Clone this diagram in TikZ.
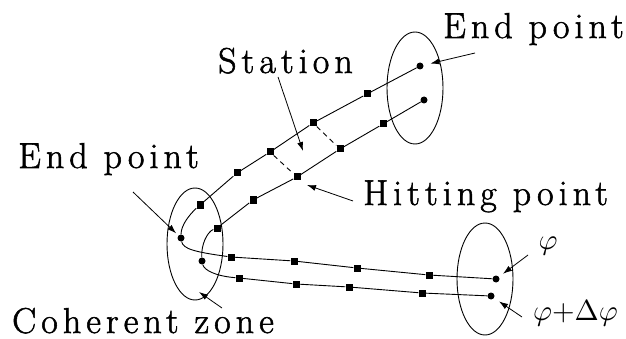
\documentclass[tikz,border=0pt]{standalone}
\usepackage{fontspec}
\usepackage{tikz}
\usetikzlibrary{arrows.meta,shapes.geometric}
\newfontfamily\lblfont{Latin Modern Roman}[LetterSpace=14,FakeBold=1.5]
\newcommand\phisym[1]{\scalebox{2.9}{$#1$}}

\tikzset{
  dot/.style={circle,fill,inner sep=0pt,minimum size=7pt},
  sq/.style={rectangle,fill,inner sep=0pt,minimum size=7pt},
  zone/.style={ellipse,draw,line width=0.9pt,inner sep=0pt,minimum width=56pt,minimum height=112pt},
  lbl/.style={inner sep=0pt,font=\fontsize{36}{40}\lblfont},
  sym/.style={inner sep=0pt},
  trk/.style={line width=0.9pt},
  arw/.style={line width=0.8pt,-{Latex[length=9pt,width=6pt]}},
}

\begin{document}
\begin{tikzpicture}[x=1pt,y=-1pt]
  \useasboundingbox (0,0) rectangle (626,339);
  % zones round the ends
  \node[zone] (ztop) at (415,88) {};
  \node[zone] (zmid) at (195,244) {};
  \node[zone] (zend) at (485,279) {};
  % end points
  \node[dot] (e1) at (420,66) {};
  \node[dot] (e2) at (424,100) {};
  \node[dot] (d1) at (181,238) {};
  \node[dot] (d2) at (202,261) {};
  \node[dot] (f1) at (496,279) {};
  \node[dot] (f2) at (491,296) {};
  % stations
  \foreach \n/\x/\y in {a1/367/94,a2/313/123,a3/270/152,a4/237/173,a5/200/205,
                        a6/231/257,a7/294/261,a8/357/268,a9/429/275,
                        b1/383/124,b2/340/149,b3/297/177,b4/253/200,b5/217/228,
                        b6/239/278,b7/296/284,b8/349/287,b9/422/293}
    \node[sq] (\n) at (\x,\y) {};
  % the two rays
  \draw[trk] (e1) -- (a1) -- (a2) -- (a3) -- (a4) -- (a5)
    .. controls (190,214) and (181,225) .. (d1)
    .. controls (183,249) and (195,252) .. (a6) -- (a7) -- (a8) -- (a9) -- (f1);
  \draw[trk] (e2) -- (b1) -- (b2) -- (b3) -- (b4) -- (b5)
    .. controls (207,232) and (201,245) .. (d2)
    .. controls (204,270) and (215,276) .. (b6) -- (b7) -- (b8) -- (b9) -- (f2);
  \draw[trk,dash pattern=on 5pt off 4pt] (a2) -- (b2);
  \draw[trk,dash pattern=on 5pt off 4pt] (a3) -- (b3);
  % labels
  \node[lbl,anchor=base west] (eptop) at (443,38) {End point};
  \node[lbl,anchor=base west] (stat) at (218,73) {Station};
  \node[lbl,anchor=base west] (epleft) at (18,168) {End point};
  \node[lbl,anchor=base west] (hit) at (363,205) {Hitting point};
  \node[lbl,anchor=base west] (coh) at (12,333) {Coherent zone};
  \node[sym] (phi) at (548,246) {\phisym{\varphi}};
  \node[sym,anchor=west] (dphi) at (533,313) {\phisym{\varphi{+}\Delta\varphi}};
  % pointers
  \coordinate (p1) at (475,53);
  \coordinate (p2) at (278,77);
  \coordinate (t2) at (303,151);
  \coordinate (p3) at (133,192);
  \coordinate (p4) at (353,201);
  \coordinate (t4) at (307,185);
  \coordinate (p5) at (222,308);
  \coordinate (t5) at (199,292);
  \coordinate (p6) at (528,255);
  \coordinate (p7) at (522,317);
  \draw[arw,shorten >=7pt] (p1) -- (e1);
  \draw[arw] (p2) -- (t2);
  \draw[arw,shorten >=3pt] (p3) -- (d1);
  \draw[arw] (p4) -- (t4);
  \draw[arw] (p5) -- (t5);
  \draw[arw,shorten >=5pt] (p6) -- (f1);
  \draw[arw,shorten >=6pt] (p7) -- (f2);
\end{tikzpicture}
\end{document}
